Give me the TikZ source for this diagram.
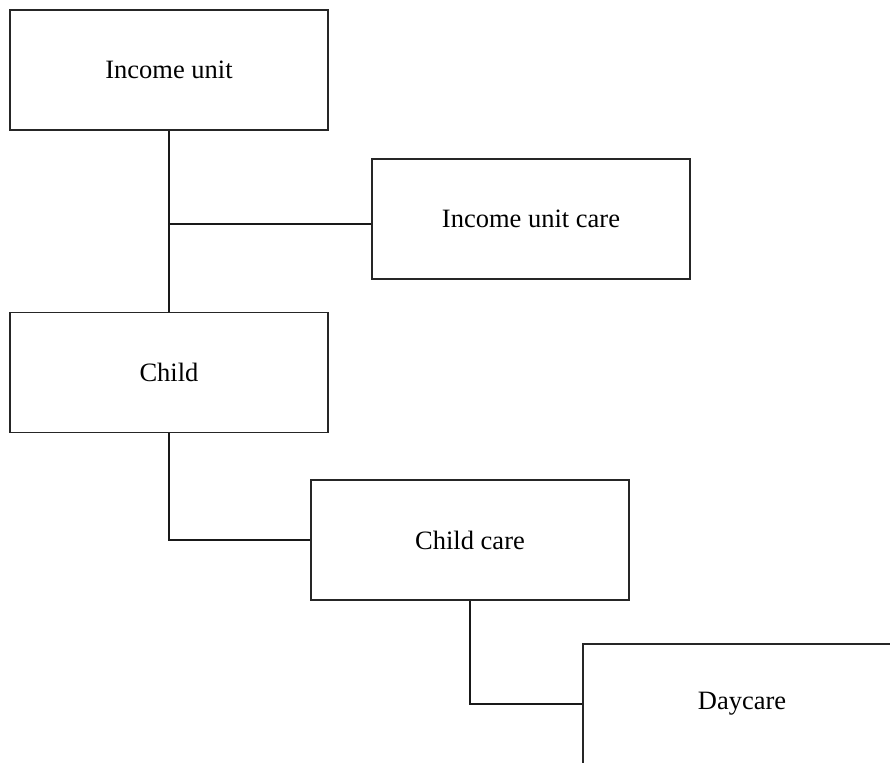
\documentclass[tikz,border=0pt]{standalone}
\usepackage{fontspec}
\setmainfont{Liberation Serif}
\begin{document}
\begin{tikzpicture}[x=1pt,y=-1pt,
  box/.style={draw=black!85,line width=1.5pt,minimum width=318pt,minimum height=120pt,inner sep=0pt,font=\fontsize{26.5}{30}\selectfont},
  link/.style={draw=black!90,line width=1.5pt}]
\useasboundingbox (0,0) rectangle (890,762);
\clip (0,0) rectangle (890,762);
\node[box] (iu) at (169,70) {Income unit};
\node[box] (iuc) at (531,219) {Income unit care};
\node[box] (child) at (169,372.5) {Child};
\node[box] (cc) at (470,540) {Child care};
\node[box] (dc) at (742,704) {Daycare};
\draw[link] (iu.south) -- (child.north);
\draw[link] ([yshift=-5pt]iuc.west) -- ([yshift=-5pt]iuc.west -| iu.south);
\draw[link] (child.south) |- (cc.west);
\draw[link] (cc.south) |- (dc.west);
\end{tikzpicture}
\end{document}
